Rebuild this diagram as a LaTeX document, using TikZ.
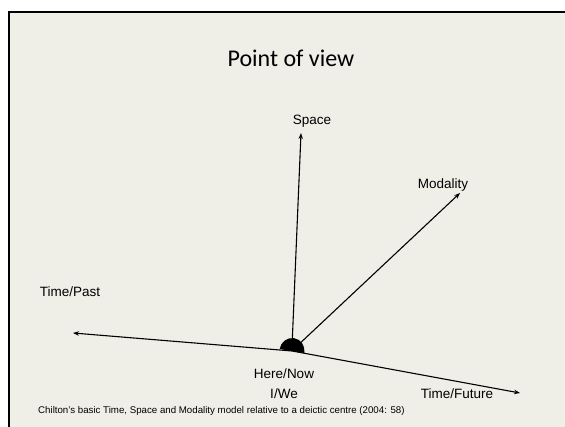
\documentclass[tikz,border=0pt]{standalone}
\usepackage{fontspec}
\setmainfont{Liberation Sans}
\newfontfamily\titlefont{Carlito}
\usetikzlibrary{arrows.meta,calc}
\definecolor{slidebg}{HTML}{EFEEE7}
\begin{document}
\begin{tikzpicture}[x=1pt,y=-1pt,
  lbl/.style={font=\fontsize{13.5}{16}\selectfont, inner sep=0pt},
  axis/.style={line width=1.1pt, -{Stealth[length=6pt,width=4.5pt]}}]
\useasboundingbox (0,0) rectangle (565,427);
\fill[white] (0,0) rectangle (565,427);
\fill[slidebg] (9,12) rectangle (565,427);
\draw[line width=2.7pt] (9,427) -- (9,12) -- (565,12);
\node[font=\titlefont\fontsize{24}{28}\selectfont, anchor=base, inner sep=0pt] (title) at (291,67) {Point of view};
\coordinate (C) at (292,351);
\coordinate (past) at (73,333);
\coordinate (future) at (520,393);
\coordinate (space) at (301,133);
\coordinate (modal) at (460,193);
\draw[axis] (C) -- (past);
\draw[axis] (C) -- (future);
\draw[axis] ($(C)+(0,-4)$) coordinate (s0) -- (space);
\draw[axis] ($(C)+(4,-4)$) coordinate (m0) -- (modal);
\fill[rotate around={-9:(C)}] ($(C)+(-12.5,0)$) arc[start angle=180, end angle=360, x radius=12.5, y radius=13] -- cycle;
\node[lbl] (spaceL) at (312,121) {Space};
\node[lbl] (modalL) at (443,185) {Modality};
\node[lbl] (pastL) at (70,292) {Time/Past};
\node[lbl] (here) at (284,374) {Here/Now};
\node[lbl] (we) at (284,394) {I/We};
\node[lbl] (futureL) at (457,394) {Time/Future};
\node[font=\fontsize{9.7}{12}\selectfont, inner sep=0pt, anchor=west] (cap) at (38,411) {Chilton’s basic Time, Space and Modality model relative to a deictic centre (2004: 58)};
\end{tikzpicture}
\end{document}
